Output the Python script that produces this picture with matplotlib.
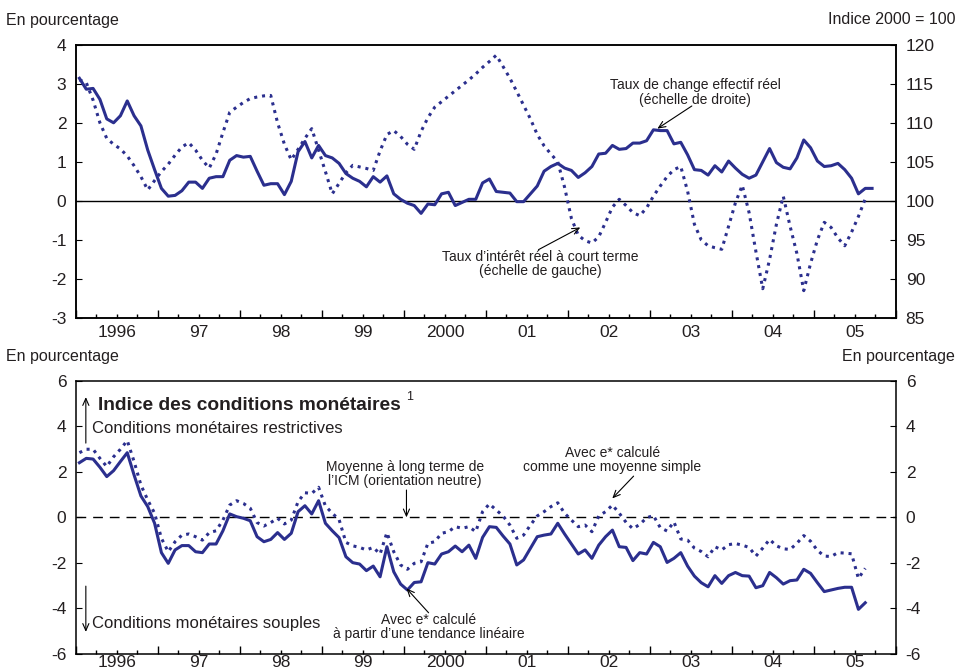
import numpy as np
import matplotlib
matplotlib.use("Agg")
import matplotlib.pyplot as plt
from matplotlib.ticker import FixedLocator, FuncFormatter

plt.rcParams['font.family'] = ['Liberation Sans', 'DejaVu Sans']
plt.rcParams['axes.unicode_minus'] = False

# monthly data, January 1996 onward
start_year = 1996
year_labels = ['1996', '97', '98', '99', '2000', '01', '02', '03', '04', '05']

# real effective exchange rate, index 2000 = 100 (right scale)
taux_change = [
    115.7, 114.3, 114.4, 113.0, 110.5, 110.0, 110.9, 112.8, 110.9, 109.6,
    106.5, 104.0, 101.6, 100.6, 100.7, 101.3, 102.4, 102.4, 101.6, 102.9,
    103.1, 103.1, 105.2, 105.8, 105.6, 105.7, 103.8, 102.0, 102.2, 102.2,
    100.8, 102.5, 106.3, 107.6, 105.5, 107.1, 105.8, 105.5, 104.8, 103.5,
    102.9, 102.5, 101.8, 103.1, 102.4, 103.2, 100.9, 100.2, 99.7, 99.4,
    98.4, 99.6, 99.5, 100.9, 101.1, 99.4, 99.8, 100.2, 100.2, 102.3,
    102.8, 101.2, 101.1, 101.0, 99.9, 99.9, 100.9, 101.9, 103.8, 104.4,
    104.8, 104.2, 103.9, 103.0, 103.6, 104.4, 106.0, 106.1, 107.1, 106.6,
    106.7, 107.4, 107.4, 107.7, 109.1, 109.0, 109.0, 107.3, 107.5, 105.9,
    104.0, 103.9, 103.3, 104.5, 103.7, 105.1, 104.2, 103.4, 102.9, 103.3,
    105.0, 106.7, 104.9, 104.3, 104.1, 105.5, 107.8, 106.8, 105.1, 104.4,
    104.5, 104.8, 104.0, 102.9, 100.9, 101.6, 101.6,
]

# real short-term interest rate, % (left scale)
taux_interet = [
    3.10, 3.03, 2.58, 2.00, 1.60, 1.45, 1.33, 1.15, 0.90, 0.62,
    0.28, 0.52, 0.75, 0.94, 1.17, 1.38, 1.49, 1.30, 1.04, 0.84,
    1.20, 1.75, 2.27, 2.40, 2.52, 2.62, 2.66, 2.69, 2.70, 2.00,
    1.45, 1.05, 1.32, 1.60, 1.85, 1.30, 0.75, 0.18, 0.45, 0.72,
    0.91, 0.87, 0.83, 0.78, 1.28, 1.70, 1.80, 1.65, 1.45, 1.32,
    1.78, 2.13, 2.40, 2.54, 2.68, 2.82, 2.96, 3.10, 3.25, 3.42,
    3.57, 3.73, 3.44, 3.14, 2.80, 2.45, 2.10, 1.70, 1.41, 1.20,
    1.00, 0.35, -0.45, -0.88, -1.02, -1.08, -0.92, -0.55, -0.16, 0.04,
    -0.12, -0.30, -0.38, -0.18, 0.12, 0.38, 0.62, 0.80, 0.88, 0.25,
    -0.60, -1.00, -1.15, -1.20, -1.24, -0.65, -0.05, 0.40, -0.30, -1.30,
    -2.25, -1.50, -0.60, 0.12, -0.65, -1.35, -2.30, -1.60, -1.00, -0.55,
    -0.68, -0.95, -1.15, -0.80, -0.40, 0.05,
]

# MCI, e* from a linear trend
icm_tendance = [
    2.40, 2.59, 2.56, 2.20, 1.79, 2.05, 2.45, 2.84, 1.86, 0.94,
    0.47, -0.26, -1.55, -2.02, -1.43, -1.24, -1.24, -1.51, -1.55, -1.17,
    -1.17, -0.59, 0.15, 0.03, -0.04, -0.15, -0.85, -1.07, -0.97, -0.67,
    -0.97, -0.70, 0.25, 0.51, 0.15, 0.73, -0.26, -0.59, -0.89, -1.73,
    -1.99, -2.05, -2.34, -2.14, -2.61, -1.29, -2.39, -2.93, -3.19, -2.86,
    -2.83, -1.99, -2.05, -1.61, -1.51, -1.26, -1.51, -1.22, -1.80, -0.88,
    -0.41, -0.44, -0.82, -1.17, -2.09, -1.87, -1.36, -0.85, -0.78, -0.73,
    -0.26, -0.73, -1.17, -1.61, -1.43, -1.80, -1.22, -0.85, -0.56, -1.29,
    -1.32, -1.90, -1.55, -1.61, -1.10, -1.29, -1.98, -1.80, -1.55, -2.14,
    -2.58, -2.87, -3.05, -2.56, -2.90, -2.56, -2.42, -2.56, -2.58, -3.09,
    -3.00, -2.42, -2.65, -2.93, -2.78, -2.75, -2.28, -2.46, -2.87, -3.26,
    -3.19, -3.12, -3.07, -3.07, -4.04, -3.75,
]

# MCI, e* as a simple average
icm_moyenne = [
    2.84, 2.99, 2.99, 2.59, 2.23, 2.66, 2.99, 3.37, 2.45, 1.42,
    0.76, 0.18, -0.92, -1.51, -1.07, -0.78, -0.73, -0.85, -1.00, -0.67,
    -0.59, -0.12, 0.54, 0.73, 0.61, 0.40, -0.23, -0.38, -0.23, -0.04,
    -0.29, -0.12, 0.69, 1.08, 1.05, 1.32, 0.50, 0.18, -0.10, -1.10,
    -1.25, -1.32, -1.43, -1.32, -1.61, -0.67, -1.51, -2.09, -2.28, -2.02,
    -1.95, -1.14, -1.07, -0.70, -0.63, -0.41, -0.48, -0.41, -0.63, 0.25,
    0.59, 0.32, 0.06, -0.34, -0.92, -0.78, -0.34, 0.06, 0.25, 0.47,
    0.64, 0.18, -0.12, -0.41, -0.34, -0.63, 0.06, 0.25, 0.54, 0.18,
    -0.22, -0.50, -0.31, -0.02, 0.08, -0.45, -0.60, -0.20, -0.95, -1.00,
    -1.35, -1.50, -1.73, -1.29, -1.43, -1.20, -1.15, -1.22, -1.32, -1.70,
    -1.35, -0.97, -1.25, -1.38, -1.41, -1.14, -0.80, -1.05, -1.45, -1.70,
    -1.72, -1.55, -1.57, -1.60, -2.68, -2.24,
]

BLUE = '#2b2f8e'
TXT = '#231f20'
W, H = 957, 672


def months(values):
    return start_year + (np.arange(len(values)) + 0.5) / 12.0


def px(x, y):
    return x / W, 1 - y / H


def setup_xaxis(ax, pad):
    ax.set_xlim(1996, 2006)
    ax.xaxis.set_major_locator(FixedLocator(np.arange(1996, 2007)))
    quarters = [y + q for y in range(1996, 2006) for q in (0.25, 0.5, 0.75)]
    ax.xaxis.set_minor_locator(FixedLocator(quarters))
    ax.xaxis.set_major_formatter(FuncFormatter(lambda v, p: ''))

    def minor_label(v, p):
        if abs((v % 1) - 0.5) < 1e-6:
            return year_labels[int(v) - 1996]
        return ''
    ax.xaxis.set_minor_formatter(FuncFormatter(minor_label))
    ax.tick_params(axis='x', which='major', direction='in', length=6, width=1)
    ax.tick_params(axis='x', which='minor', direction='in', length=3, width=1,
                   labelsize=12.5, pad=pad, labelcolor=TXT)


def style_spines(ax):
    for s in ax.spines.values():
        s.set_linewidth(1.1)
        s.set_color('black')


def arrow(ax, tail, head):
    ax.annotate('', xy=head, xytext=tail,
                arrowprops=dict(arrowstyle='->,head_length=0.5,head_width=0.22',
                                color='black', lw=0.8, shrinkA=0, shrinkB=0))


fig = plt.figure(figsize=(W / 100, H / 100), dpi=100)

# ---- top panel ----
ax1 = fig.add_axes([76 / W, 1 - 318 / H, 820 / W, 273.3 / H])
ax2 = ax1.twinx()
ax1.set_ylim(-3, 4)
ax2.set_ylim(85, 120)
ax1.set_yticks(range(-3, 5))
ax2.set_yticks(range(85, 121, 5))
ax1.tick_params(axis='y', direction='in', length=4, labelsize=12.5, pad=7, labelcolor=TXT)
ax2.tick_params(axis='y', direction='in', length=4, labelsize=12.5, pad=7, labelcolor=TXT)
setup_xaxis(ax1, 5)
ax1.axhline(0, color='black', lw=1)

ax2.plot(months(taux_change), taux_change, color=BLUE, lw=2.2)
ax1.plot(months(taux_interet), taux_interet, color=BLUE, lw=2.2,
         linestyle=(0, (1.0, 1.6)))
style_spines(ax1)
style_spines(ax2)

ax1.text(2003.55, 2.78, 'Taux de change effectif réel\n(échelle de droite)',
         ha='center', va='center', fontsize=10, color=TXT, linespacing=1.05)
arrow(ax1, (2003.51, 2.43), (2003.09, 1.85))
ax1.text(2001.66, -1.62, "Taux d’intérêt réel à court terme\n(échelle de gauche)",
         ha='center', va='center', fontsize=10, color=TXT, linespacing=1.05)
arrow(ax1, (2001.64, -1.25), (2002.15, -0.68))

fig.text(*px(6, 20), 'En pourcentage', ha='left', va='center', fontsize=11.5, color=TXT)
fig.text(*px(955, 20), 'Indice 2000 = 100', ha='right', va='center', fontsize=11.5, color=TXT)

# ---- bottom panel ----
ax3 = fig.add_axes([76 / W, 1 - 654 / H, 820 / W, 273.3 / H])
ax3.set_ylim(-6, 6)
ax3.set_yticks(range(-6, 7, 2))
ax3.tick_params(axis='y', direction='in', length=4, labelsize=12.5, pad=7,
                right=True, labelright=True, labelcolor=TXT)
setup_xaxis(ax3, 1)
ax3.axhline(0, color='black', lw=1, linestyle=(0, (7, 5)))

ax3.plot(months(icm_tendance), icm_tendance, color=BLUE, lw=2.2)
ax3.plot(months(icm_moyenne), icm_moyenne, color=BLUE, lw=2.2,
         linestyle=(0, (1.0, 1.6)))
style_spines(ax3)

ax3.text(1996.27, 4.93, 'Indice des conditions monétaires', ha='left', va='center',
         fontsize=13.8, fontweight='bold', color=TXT)
ax3.text(2000.03, 5.3, '1', ha='left', va='center', fontsize=9, color=TXT)
ax3.text(1996.2, 3.88, 'Conditions monétaires restrictives', ha='left', va='center',
         fontsize=12, color=TXT)
ax3.text(1996.2, -4.65, 'Conditions monétaires souples', ha='left', va='center',
         fontsize=12, color=TXT)
arrow(ax3, (1996.12, 3.26), (1996.12, 5.28))
arrow(ax3, (1996.12, -3.02), (1996.12, -5.03))

ax3.text(2000.01, 1.9, 'Moyenne à long terme de\nl’ICM (orientation neutre)',
         ha='center', va='center', fontsize=10, color=TXT, linespacing=1.05)
arrow(ax3, (2000.03, 1.2), (2000.03, 0.0))
ax3.text(2002.54, 2.52, 'Avec e* calculé\ncomme une moyenne simple',
         ha='center', va='center', fontsize=10, color=TXT, linespacing=1.05)
arrow(ax3, (2002.80, 1.81), (2002.54, 0.83))
ax3.text(2000.30, -4.81, 'Avec e* calculé\nà partir d’une tendance linéaire',
         ha='center', va='center', fontsize=10, color=TXT, linespacing=1.05)
arrow(ax3, (2000.30, -4.19), (2000.03, -3.12))

fig.text(*px(6, 357), 'En pourcentage', ha='left', va='center', fontsize=11.5, color=TXT)
fig.text(*px(955, 357), 'En pourcentage', ha='right', va='center', fontsize=11.5, color=TXT)

fig.savefig('out.png', dpi=100)
